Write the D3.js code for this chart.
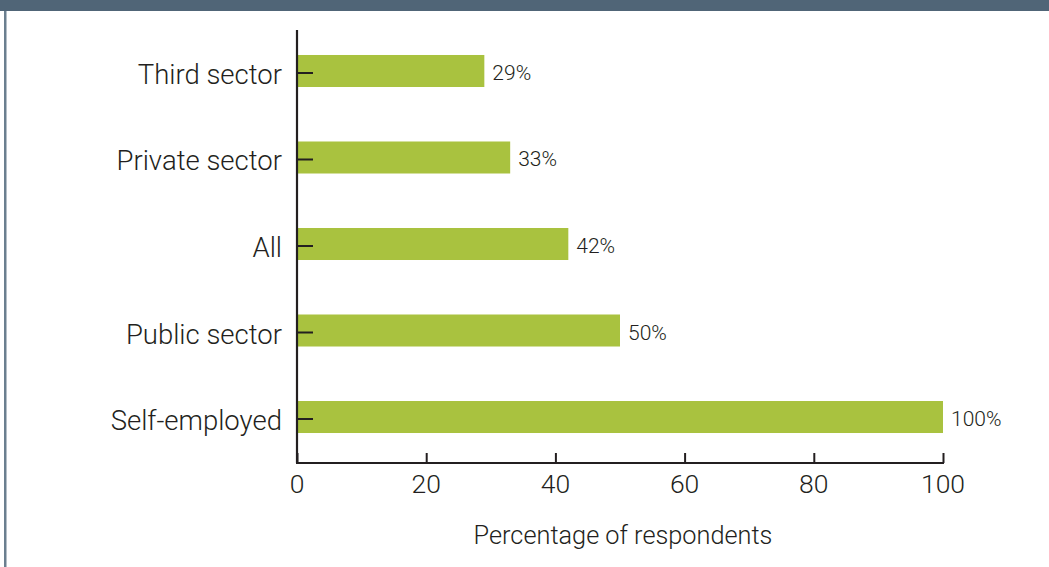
<!DOCTYPE html>
<html>
<head>
<meta charset="utf-8">
<script src="https://cdn.jsdelivr.net/npm/d3@7"></script>
<style>
  html, body { margin: 0; padding: 0; background: #fff; }
  svg { display: block; }
  text { font-family: Roboto, "Noto Sans", sans-serif; font-weight: 300; fill: #231f20; }
</style>
</head>
<body>
<svg id="chart" width="1049" height="567"></svg>
<script>
// Share of respondents by employment sector
const categories = ["Third sector", "Private sector", "All", "Public sector", "Self-employed"];
const values = [29, 33, 42, 50, 100];
const xTicks = [0, 20, 40, 60, 80, 100];
const xTitle = "Percentage of respondents";

const svg = d3.select("#chart");
const W = 1049, H = 567;

// frame: dark band across the top, thin rule down the left edge
svg.append("rect").attr("x", 0).attr("y", 0).attr("width", W).attr("height", 11).attr("fill", "#506577");
svg.append("rect").attr("x", 4).attr("y", 11).attr("width", 2.5).attr("height", H - 11).attr("fill", "#6b7f8f");

const plotL = 297, plotR = 943, plotT = 30, plotB = 463;

const x = d3.scaleLinear().domain([0, 100]).range([plotL, plotR]);
const y = d3.scaleBand().domain(categories).range([28, 460]).paddingInner(0.63).paddingOuter(0.312);

const g = svg.append("g");

// bars
g.selectAll("rect.bar").data(categories).join("rect")
  .attr("class", "bar")
  .attr("x", x(0))
  .attr("y", d => y(d))
  .attr("width", (d, i) => x(values[i]) - x(0))
  .attr("height", y.bandwidth())
  .attr("fill", "#a9c23f");

// value labels
g.selectAll("text.val").data(categories).join("text")
  .attr("class", "val")
  .attr("x", (d, i) => x(values[i]) + 8)
  .attr("y", d => y(d) + y.bandwidth() / 2 + 9)
  .attr("font-size", 21)
  .text((d, i) => values[i] + "%");

// y axis: ticks point into the plot
const yAxis = d3.axisRight(y).tickSize(16).tickFormat("");
const ya = g.append("g").attr("transform", `translate(${plotL},2)`).call(yAxis);
ya.select(".domain").remove();
ya.selectAll(".tick line").attr("stroke", "#231f20").attr("stroke-width", 2);
g.append("line").attr("x1", plotL).attr("x2", plotL).attr("y1", plotT).attr("y2", plotB)
  .attr("stroke", "#231f20").attr("stroke-width", 2.2);

// y category labels
g.selectAll("text.cat").data(categories).join("text")
  .attr("class", "cat")
  .attr("x", plotL - 15)
  .attr("y", d => y(d) + y.bandwidth() / 2 + 13)
  .attr("text-anchor", "end")
  .attr("font-size", 27.5)
  .text(d => d);

// x axis: ticks point upward
const xAxis = d3.axisTop(x).tickValues(xTicks).tickSize(10).tickFormat("");
const xa = g.append("g").attr("transform", `translate(0,${plotB})`).call(xAxis);
xa.select(".domain").remove();
xa.selectAll(".tick line").attr("stroke", "#231f20").attr("stroke-width", 2);
g.append("line").attr("x1", plotL - 1).attr("x2", plotR + 1).attr("y1", plotB).attr("y2", plotB)
  .attr("stroke", "#231f20").attr("stroke-width", 2.2);

g.selectAll("text.xt").data(xTicks).join("text")
  .attr("class", "xt")
  .attr("x", d => x(d))
  .attr("y", 493)
  .attr("text-anchor", "middle")
  .attr("font-size", 26.5)
  .text(d => d);

svg.append("text")
  .attr("x", (plotL + plotR) / 2 + 3)
  .attr("y", 544)
  .attr("text-anchor", "middle")
  .attr("font-size", 25.3)
  .text(xTitle);
</script>
</body>
</html>
